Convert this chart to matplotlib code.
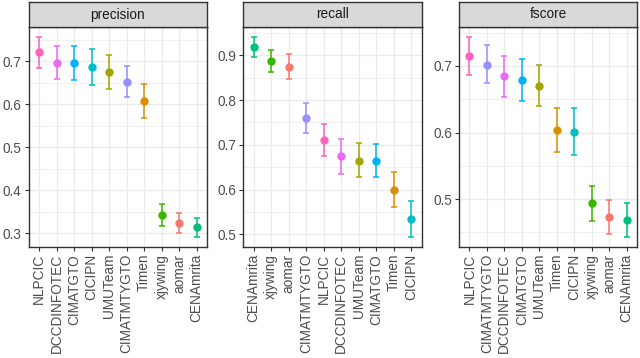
import matplotlib
matplotlib.use("Agg")
import matplotlib.pyplot as plt
from matplotlib.ticker import MultipleLocator

plt.rcParams["font.family"] = ["Liberation Sans", "DejaVu Sans"]

team_colors = {
    "aomar": "#F8766D", "Timen": "#D89000", "UMUTeam": "#A3A500", "xjywing": "#39B600",
    "CENAmrita": "#00BF7D", "CICIPN": "#00BFC4", "CIMATGTO": "#00B0F6",
    "CIMATMTYGTO": "#9590FF", "DCCDINFOTEC": "#E76BF3", "NLPCIC": "#FF62BC",
}

prec_teams = ["NLPCIC", "DCCDINFOTEC", "CIMATGTO", "CICIPN", "UMUTeam", "CIMATMTYGTO", "Timen", "xjywing", "aomar", "CENAmrita"]
prec_mean = [0.721, 0.697, 0.696, 0.688, 0.676, 0.653, 0.608, 0.342, 0.324, 0.314]
prec_low = [0.684, 0.659, 0.657, 0.645, 0.637, 0.617, 0.569, 0.317, 0.300, 0.291]
prec_high = [0.757, 0.735, 0.735, 0.730, 0.715, 0.689, 0.647, 0.367, 0.348, 0.336]

rec_teams = ["CENAmrita", "xjywing", "aomar", "CIMATMTYGTO", "NLPCIC", "DCCDINFOTEC", "UMUTeam", "CIMATGTO", "Timen", "CICIPN"]
rec_mean = [0.918, 0.888, 0.875, 0.760, 0.710, 0.674, 0.664, 0.663, 0.600, 0.535]
rec_low = [0.896, 0.863, 0.848, 0.726, 0.674, 0.635, 0.627, 0.627, 0.560, 0.494]
rec_high = [0.941, 0.913, 0.902, 0.794, 0.746, 0.712, 0.703, 0.701, 0.639, 0.575]

f_teams = ["NLPCIC", "CIMATMTYGTO", "DCCDINFOTEC", "CIMATGTO", "UMUTeam", "Timen", "CICIPN", "xjywing", "aomar", "CENAmrita"]
f_mean = [0.715, 0.702, 0.6845, 0.679, 0.670, 0.6035, 0.601, 0.4935, 0.473, 0.469]
f_low = [0.686, 0.674, 0.6535, 0.648, 0.6395, 0.571, 0.5665, 0.4675, 0.4475, 0.443]
f_high = [0.7435, 0.731, 0.715, 0.710, 0.701, 0.637, 0.637, 0.520, 0.499, 0.494]

panels = [
    ("precision", prec_teams, prec_mean, prec_low, prec_high),
    ("recall", rec_teams, rec_mean, rec_low, rec_high),
    ("fscore", f_teams, f_mean, f_low, f_high),
]

W, H = 640, 358
fig = plt.figure(figsize=(W / 100, H / 100), dpi=100)
lefts = [28.5, 243, 459]
rights = [207, 422, 637]
top_px, bot_px, strip_top = 27, 247, 2

for (name, teams, mean, low, high), l, r in zip(panels, lefts, rights):
    ax = fig.add_axes([l / W, 1 - bot_px / H, (r - l) / W, (bot_px - top_px) / H])
    ax.set_facecolor("white")
    x = list(range(len(teams)))
    for i, t in enumerate(teams):
        c = team_colors[t]
        ax.errorbar([i], [mean[i]], yerr=[[mean[i] - low[i]], [high[i] - mean[i]]],
                    fmt="o", color=c, ecolor=c, elinewidth=1.1, capsize=2, capthick=1.1,
                    markersize=5, zorder=3)
    lo = min(low); hi = max(high); rng = hi - lo
    ax.set_ylim(lo - 0.05 * rng, hi + 0.05 * rng)
    ax.set_xlim(-0.6, len(teams) - 0.4)
    ax.yaxis.set_major_locator(MultipleLocator(0.1))
    ax.yaxis.set_minor_locator(MultipleLocator(0.05))
    ax.yaxis.set_major_formatter(matplotlib.ticker.FormatStrFormatter("%.1f"))
    ax.set_xticks(x)
    ax.set_xticklabels(teams, rotation=90)
    ax.grid(True, which="major", color="#EBEBEB", linewidth=1.0, zorder=0)
    ax.grid(True, which="minor", axis="y", color="#EBEBEB", linewidth=0.5, zorder=0)
    ax.set_axisbelow(True)
    for s in ax.spines.values():
        s.set_color("#333333"); s.set_linewidth(1.0)
    ax.tick_params(axis="both", which="major", length=3, width=0.8, color="#333333",
                   labelsize=9.8, labelcolor="#4D4D4D", pad=2)
    ax.tick_params(axis="y", which="minor", length=0)
    # strip
    sax = fig.add_axes([l / W, 1 - top_px / H, (r - l) / W, (top_px - strip_top) / H])
    sax.set_facecolor("#D9D9D9")
    sax.set_xticks([]); sax.set_yticks([])
    for s in sax.spines.values():
        s.set_color("#333333"); s.set_linewidth(1.0)
    sax.text(0.5, 0.5, name, ha="center", va="center", fontsize=9.8, color="#1A1A1A",
             transform=sax.transAxes)

fig.savefig("out.png", dpi=100)
